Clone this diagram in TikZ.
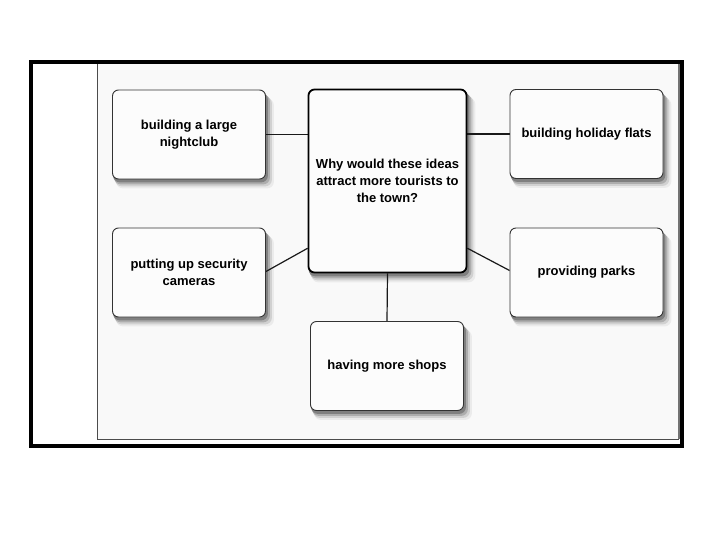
\documentclass[tikz,border=0pt]{standalone}
\usepackage{fontspec}
\setmainfont{Liberation Sans}
\usetikzlibrary{calc,backgrounds}
\definecolor{panel}{HTML}{F9F9F9}
\definecolor{boxfill}{HTML}{FCFCFC}
\tikzset{
  idea/.style={rectangle, rounded corners=6pt, draw=black!80, line width=0.9pt,
    fill=boxfill, align=center, inner sep=2pt,
    font=\fontsize{13}{17}\selectfont\bfseries,
    minimum width=153pt, minimum height=89pt},
  hub/.style={idea, line width=1.8pt, draw=black, minimum width=158pt, minimum height=183pt},
  link/.style={draw=black!90, line width=1.2pt},
  shadowlayer/.style={rounded corners=7pt}
}
\newcommand\myboxshadow[1]{%
  \fill[shadowlayer, black!8]  ($(#1.south west)+(4,9)$) rectangle ($(#1.north east)+(8,9)$);
  \fill[shadowlayer, black!18] ($(#1.south west)+(3,7)$) rectangle ($(#1.north east)+(6,7)$);
  \fill[shadowlayer, black!32] ($(#1.south west)+(2,5)$) rectangle ($(#1.north east)+(4,5)$);
  \fill[shadowlayer, black!50] ($(#1.south west)+(1,3)$) rectangle ($(#1.north east)+(2,3)$);
}
\begin{document}
\begin{tikzpicture}[x=1pt,y=-1pt]
\useasboundingbox (0,0) rectangle (720,540);
% nodes
\node[hub] (c) at (387.5,181) {Why would these ideas\\attract more tourists to\\the town?};
\node[idea] (tl) at (189,134.5) {building a large\\nightclub};
\node[idea] (tr) at (586.5,134) {building holiday flats};
\node[idea] (ml) at (189,272.5) {putting up security\\cameras};
\node[idea] (mr) at (586.5,272.5) {providing parks};
\node[idea] (b) at (387,366) {having more shops};
\begin{pgfonlayer}{background}
\fill[white] (0,0) rectangle (720,540);
\fill[panel] (97,64) rectangle (680,439);
\draw[black!70, line width=0.8pt] (97,64) -- (97,439) -- (679,439);
\draw[black!55, line width=2pt] (679,64) -- (679,439);
\draw[black, line width=4pt] (31,62) rectangle (682,445.5);
\myboxshadow{c}
\myboxshadow{tl}
\myboxshadow{tr}
\myboxshadow{ml}
\myboxshadow{mr}
\myboxshadow{b}
% connectors
\draw[link] (tl.east) -- (tl.east -| c.west);
\draw[link] (tr.west) -- (tr.west -| c.east);
\draw[link] ($(ml.east)+(0,-1)$) -- ($(c.south west)!0.136!(c.north west)$);
\draw[link] ($(mr.west)+(0,-2)$) -- ($(c.south east)!0.136!(c.north east)$);
\draw[link] (c.south) -- (b.north);
\end{pgfonlayer}
\end{tikzpicture}
\end{document}
